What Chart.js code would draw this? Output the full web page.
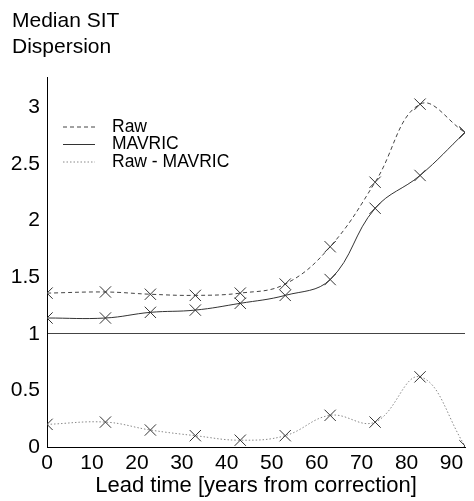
<!DOCTYPE html>
<html>
<head>
<meta charset="utf-8">
<script src="https://cdn.jsdelivr.net/npm/chart.js@4.4.1/dist/chart.umd.min.js"></script>
<style>
    html, body { margin: 0; padding: 0; background: #ffffff; }
    #caja { width: 474px; height: 501px; }
</style>
</head>
<body>
<div id="caja"><canvas id="grafica" width="474" height="501"></canvas></div>
<script>
/* ===============================
   DATOS
================================= */
let leadTimes = [0, 13, 23, 33, 43, 53, 63, 73, 83, 93];
let rawValues = [1.36, 1.37, 1.35, 1.34, 1.36, 1.44, 1.77, 2.34, 3.03, 2.78];
let mavricValues = [1.14, 1.14, 1.19, 1.21, 1.27, 1.34, 1.48, 2.11, 2.40, 2.78];
let diffValues = [0.20, 0.22, 0.15, 0.10, 0.06, 0.10, 0.28, 0.22, 0.62, 0.01];

let seriesNames = ["Raw", "MAVRIC", "Raw - MAVRIC"];
let xTicks = [0, 10, 20, 30, 40, 50, 60, 70, 80, 90];
let yTicks = [0, 0.5, 1, 1.5, 2, 2.5, 3];
let titleLines = ["Median SIT", "Dispersion"];
let xTitle = "Lead time [years from correction]";

let fuente = '"Liberation Sans", Arial, sans-serif';

function puntos(valores) {
    return leadTimes.map((x, i) => ({ x: x, y: valores[i] }));
}

function serie(nombre, valores, color, dash) {
    return {
        label: nombre,
        data: puntos(valores),
        borderColor: color,
        borderWidth: 1,
        borderDash: dash,
        pointStyle: "crossRot",
        pointRadius: 8,
        pointBorderColor: "#333333",
        pointBorderWidth: 1,
        pointBackgroundColor: "transparent",
        tension: 0.4,
        clip: 0,
        fill: false
    };
}

/* ===============================
   TITULO Y LEYENDA
================================= */
const textoExtra = {
    id: "textoExtra",
    afterDraw(chart) {
        let ctx = chart.ctx;
        ctx.save();
        ctx.fillStyle = "#000000";
        ctx.font = "21px " + fuente;
        ctx.textBaseline = "alphabetic";
        titleLines.forEach((t, i) => ctx.fillText(t, 12, 27 + i * 26));

        ctx.font = "17.5px " + fuente;
        ctx.textBaseline = "middle";
        chart.data.datasets.forEach((ds, i) => {
            let y = 127 + i * 17.5;
            ctx.strokeStyle = ds.borderColor;
            ctx.lineWidth = 1;
            ctx.setLineDash(ds.borderDash || []);
            ctx.beginPath();
            ctx.moveTo(63, y);
            ctx.lineTo(95, y);
            ctx.stroke();
            ctx.setLineDash([]);
            ctx.fillText(ds.label, 112, y);
        });
        ctx.restore();
    }
};

/* ===============================
   GRAFICA
================================= */
let ctx = document.getElementById("grafica").getContext("2d");

let grafica = new Chart(ctx, {
    type: "line",
    data: {
        datasets: [
            serie(seriesNames[0], rawValues, "#444444", [4, 3]),
            serie(seriesNames[1], mavricValues, "#333333", []),
            serie(seriesNames[2], diffValues, "#888888", [1.5, 2])
        ]
    },
    options: {
        responsive: false,
        animation: false,
        devicePixelRatio: 1,
        layout: { padding: { top: 77, left: 0, right: 0, bottom: 0 } },
        plugins: {
            legend: { display: false },
            tooltip: { enabled: false }
        },
        scales: {
            x: {
                type: "linear",
                min: 0,
                max: 93,
                afterBuildTicks: s => { s.ticks = xTicks.map(v => ({ value: v })); },
                afterFit: s => { s.height = 54; s.paddingLeft = 0; s.paddingRight = 0; },
                grid: { display: false, drawTicks: false },
                border: { display: true, color: "#000000", width: 1 },
                ticks: {
                    color: "#000000",
                    padding: 4,
                    maxRotation: 0,
                    callback: v => String(v),
                    font: { family: fuente, size: 21 }
                },
                title: {
                    display: true,
                    text: xTitle,
                    color: "#000000",
                    padding: { top: 0, bottom: 2 },
                    font: { family: fuente, size: 22 }
                }
            },
            y: {
                type: "linear",
                min: 0,
                max: 3.27,
                afterBuildTicks: s => { s.ticks = yTicks.map(v => ({ value: v })); },
                afterFit: s => { s.width = 47; s.paddingTop = 0; s.paddingBottom = 0; },
                grid: {
                    drawTicks: false,
                    lineWidth: 1,
                    color: c => (c.tick && c.tick.value === 1) ? "#444444" : "transparent"
                },
                border: { display: true, color: "#000000", width: 1 },
                ticks: {
                    color: "#000000",
                    padding: 7,
                    callback: v => String(v),
                    font: { family: fuente, size: 21 }
                }
            }
        }
    },
    plugins: [textoExtra]
});
</script>
</body>
</html>
